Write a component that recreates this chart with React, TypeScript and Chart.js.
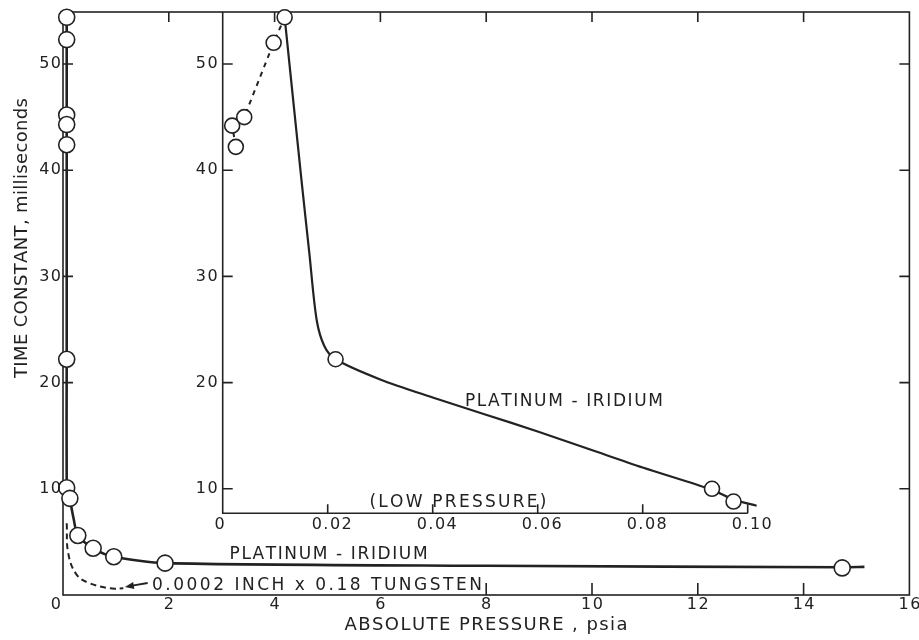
import React, { useEffect, useRef } from "react";
import { Chart, registerables } from "chart.js";

Chart.register(...registerables);

// ---------------- data ----------------
// main plot ticks
const mainXTicks = [0, 2, 4, 6, 8, 10, 12, 14, 16];
const mainYTicks = [10, 20, 30, 40, 50];
const mainTopTickMarks = [2, 4, 6, 8, 10, 12, 14];
const mainBottomTickMarks = [8, 10, 12, 14];

// inset ticks
const insetXTicks = [0, 0.02, 0.04, 0.06, 0.08, 0.1];
const insetXTickLabels = ["0", "0.02", "0.04", "0.06", "0.08", "0.10"];
const insetYTicks = [10, 20, 30, 40, 50];

// main plot: platinum-iridium curve (psia, ms)
const mainPtIrLineX = [0.07, 0.07, 0.07, 0.1, 0.13, 0.2, 0.28, 0.57, 0.96, 1.93, 8.0, 14.73, 15.15];
const mainPtIrLineY = [54.9, 22.0, 10.6, 9.6, 9.0, 7.2, 5.6, 4.4, 3.6, 3.0, 2.75, 2.62, 2.65];
// main plot: measured points
const mainPtIrPointX = [0.07, 0.07, 0.07, 0.07, 0.07, 0.07, 0.07, 0.13, 0.28, 0.57, 0.96, 1.93, 14.73];
const mainPtIrPointY = [54.4, 52.3, 45.2, 44.3, 42.4, 22.2, 10.1, 9.1, 5.6, 4.4, 3.6, 3.0, 2.55];
// main plot: tungsten wire (dashed)
const mainTungstenX = [0.07, 0.1, 0.26, 0.51, 0.89, 1.14];
const mainTungstenY = [6.75, 3.9, 1.9, 1.1, 0.63, 0.63];

// inset (low pressure): platinum-iridium solid curve
const insetPtIrLineX = [0.0118, 0.015, 0.0165, 0.0179, 0.0194, 0.0215, 0.03, 0.04, 0.05, 0.06, 0.07, 0.08, 0.0932, 0.0973, 0.1017];
const insetPtIrLineY = [54.4, 39.1, 32.2, 25.9, 23.4, 22.2, 20.3, 18.6, 17.0, 15.4, 13.7, 12.0, 9.9, 9.0, 8.4];
// inset dashed curve
const insetDashX = [0.0025, 0.0018, 0.0041, 0.0097, 0.0118];
const insetDashY = [42.2, 44.2, 45.0, 52.0, 54.4];
// inset points
const insetPointX = [0.0018, 0.0025, 0.0041, 0.0097, 0.0118, 0.0215, 0.0932, 0.0973];
const insetPointY = [44.2, 42.2, 45.0, 52.0, 54.4, 22.2, 10.0, 8.8];

// text annotations (data coordinates)
const mainPtIrLabel = { text: "PLATINUM - IRIDIUM", x: 5.02, y: 3.77 };
const tungstenLabel = { text: "0.0002 INCH x 0.18 TUNGSTEN", x: 4.8, y: 0.85 };
const tungstenArrow = { fromX: 1.6, fromY: 1.13, toX: 1.17, toY: 0.75 };
const insetPtIrLabel = { text: "PLATINUM - IRIDIUM", x: 0.065, y: 18.2 };
const lowPressureLabel = { text: "(LOW PRESSURE)", x: 0.0448, y: 8.66 };
const xTitle = "ABSOLUTE PRESSURE , psia";
const yTitle = "TIME CONSTANT, milliseconds";

// ---------------- layout / style ----------------
const W = 919;
const H = 640;
const PAD = { left: 63, right: 8, top: 12, bottom: 45 };
const INSET_PX = { left: 223, right: 749 };
const INSET_X_MAX = 0.1;
const INSET_Y_MIN = 7.7;
const Y_MAX = 54.9;
const INK = "#222222";
const FONT = "'DejaVu Sans', 'Liberation Sans', sans-serif";

const toPts = (xs: number[], ys: number[]) => xs.map((x, i) => ({ x, y: ys[i] }));

function drawSpaced(ctx: CanvasRenderingContext2D, text: string, x: number, y: number, spacing: number, align: "left" | "center" | "right") {
  const chars = [...text];
  const widths = chars.map((c) => ctx.measureText(c).width);
  const total = widths.reduce((a, b) => a + b, 0) + spacing * (chars.length - 1);
  let cur = align === "left" ? x : align === "center" ? x - total / 2 : x - total;
  ctx.textAlign = "left";
  chars.forEach((c, i) => {
    ctx.fillText(c, cur, y);
    cur += widths[i] + spacing;
  });
}

function drawFitted(ctx: CanvasRenderingContext2D, text: string, cx: number, cy: number, width: number) {
  const chars = [...text];
  const natural = chars.reduce((s, c) => s + ctx.measureText(c).width, 0);
  const spacing = chars.length > 1 ? (width - natural) / (chars.length - 1) : 0;
  drawSpaced(ctx, text, cx, cy, spacing, "center");
}

const decorPlugin = {
  id: "decor",
  beforeDatasetsDraw(chart: any) {
    const { ctx, chartArea: a, scales } = chart;
    const x = scales.x;
    const xi = scales.xi;
    const y = scales.y;
    ctx.save();
    ctx.strokeStyle = INK;
    ctx.lineWidth = 1.6;
    ctx.strokeRect(a.left, a.top, a.right - a.left, a.bottom - a.top);
    ctx.beginPath();
    mainYTicks.forEach((v) => {
      const py = y.getPixelForValue(v);
      ctx.moveTo(a.left, py);
      ctx.lineTo(a.left + 10, py);
      ctx.moveTo(a.right, py);
      ctx.lineTo(a.right - 10, py);
    });
    mainTopTickMarks.forEach((v) => {
      const px = x.getPixelForValue(v);
      ctx.moveTo(px, a.top);
      ctx.lineTo(px, a.top + 10);
    });
    mainBottomTickMarks.forEach((v) => {
      const px = x.getPixelForValue(v);
      ctx.moveTo(px, a.bottom);
      ctx.lineTo(px, a.bottom - 12);
    });
    // inset axes
    const ix0 = xi.getPixelForValue(0);
    const ix1 = xi.getPixelForValue(INSET_X_MAX);
    const iyB = y.getPixelForValue(INSET_Y_MIN);
    ctx.moveTo(ix0, a.top);
    ctx.lineTo(ix0, iyB);
    ctx.lineTo(ix1, iyB);
    insetYTicks.forEach((v) => {
      const py = y.getPixelForValue(v);
      ctx.moveTo(ix0, py);
      ctx.lineTo(ix0 + 10, py);
    });
    insetXTicks.forEach((v) => {
      if (v === 0) return;
      const px = xi.getPixelForValue(v);
      ctx.moveTo(px, iyB);
      ctx.lineTo(px, iyB - 9);
    });
    ctx.stroke();
    ctx.restore();
  },
  afterDatasetsDraw(chart: any) {
    const { ctx, chartArea: a, scales } = chart;
    const x = scales.x;
    const xi = scales.xi;
    const y = scales.y;
    ctx.save();
    ctx.fillStyle = INK;
    ctx.strokeStyle = INK;
    ctx.textBaseline = "middle";

    // tick labels
    ctx.font = `16px ${FONT}`;
    mainYTicks.forEach((v) => drawSpaced(ctx, String(v), a.left - 2, y.getPixelForValue(v), 1.5, "right"));
    mainXTicks.forEach((v) => {
      const px = x.getPixelForValue(v);
      if (v === 0) drawSpaced(ctx, "0", px - 2, a.bottom + 10, 1.5, "right");
      else drawSpaced(ctx, String(v), px, a.bottom + 10, 1.5, "center");
    });
    const ix0 = xi.getPixelForValue(0);
    const iyB = y.getPixelForValue(INSET_Y_MIN);
    insetYTicks.forEach((v) => drawSpaced(ctx, String(v), ix0 - 5, y.getPixelForValue(v), 1.5, "right"));
    insetXTicks.forEach((v, i) => {
      const px = xi.getPixelForValue(v);
      if (v === 0) drawSpaced(ctx, insetXTickLabels[i], px + 2, iyB + 12, 1.5, "right");
      else drawSpaced(ctx, insetXTickLabels[i], px + 4, iyB + 12, 1.5, "center");
    });

    // curve labels
    ctx.font = `17px ${FONT}`;
    drawFitted(ctx, mainPtIrLabel.text, x.getPixelForValue(mainPtIrLabel.x), y.getPixelForValue(mainPtIrLabel.y), 198);
    drawFitted(ctx, tungstenLabel.text, x.getPixelForValue(tungstenLabel.x), y.getPixelForValue(tungstenLabel.y), 330);
    drawFitted(ctx, insetPtIrLabel.text, xi.getPixelForValue(insetPtIrLabel.x), y.getPixelForValue(insetPtIrLabel.y), 198);
    drawFitted(ctx, lowPressureLabel.text, xi.getPixelForValue(lowPressureLabel.x), y.getPixelForValue(lowPressureLabel.y), 177);

    // arrow
    const fx = x.getPixelForValue(tungstenArrow.fromX);
    const fy = y.getPixelForValue(tungstenArrow.fromY);
    const tx = x.getPixelForValue(tungstenArrow.toX);
    const ty = y.getPixelForValue(tungstenArrow.toY);
    const ang = Math.atan2(ty - fy, tx - fx);
    ctx.lineWidth = 1.8;
    ctx.beginPath();
    ctx.moveTo(fx, fy);
    ctx.lineTo(tx - 6 * Math.cos(ang), ty - 6 * Math.sin(ang));
    ctx.stroke();
    ctx.beginPath();
    ctx.moveTo(tx, ty);
    ctx.lineTo(tx - 9 * Math.cos(ang) + 3.5 * Math.sin(ang), ty - 9 * Math.sin(ang) - 3.5 * Math.cos(ang));
    ctx.lineTo(tx - 9 * Math.cos(ang) - 3.5 * Math.sin(ang), ty - 9 * Math.sin(ang) + 3.5 * Math.cos(ang));
    ctx.closePath();
    ctx.fill();

    // axis titles
    ctx.font = `18px ${FONT}`;
    drawFitted(ctx, xTitle, 486, 625, 283);
    ctx.translate(22, 238);
    ctx.rotate(-Math.PI / 2);
    drawFitted(ctx, yTitle, 0, 0, 280);
    ctx.restore();
  },
};

export default function App() {
  const canvasRef = useRef<HTMLCanvasElement | null>(null);

  useEffect(() => {
    if (!canvasRef.current) return;
    const plotW = W - PAD.left - PAD.right;
    const insetW = INSET_PX.right - INSET_PX.left;
    const xiMin = (-INSET_X_MAX * (INSET_PX.left - PAD.left)) / insetW;
    const xiMax = (INSET_X_MAX * (PAD.left + plotW - INSET_PX.left)) / insetW;

    const pointStyle = {
      showLine: false,
      pointRadius: 8,
      pointBackgroundColor: "#ffffff",
      pointBorderColor: INK,
      pointBorderWidth: 1.6,
      clip: false as const,
    };

    const chart = new Chart(canvasRef.current, {
      type: "scatter",
      data: {
        datasets: [
          { label: "main points", data: toPts(mainPtIrPointX, mainPtIrPointY), xAxisID: "x", yAxisID: "y", ...pointStyle },
          { label: "inset points", data: toPts(insetPointX, insetPointY), xAxisID: "xi", yAxisID: "y", ...pointStyle, pointRadius: 7.5 },
          {
            label: "Platinum-iridium",
            data: toPts(mainPtIrLineX, mainPtIrLineY),
            xAxisID: "x",
            yAxisID: "y",
            showLine: true,
            borderColor: INK,
            borderWidth: 2.6,
            pointRadius: 0,
            tension: 0.25,
            clip: false,
          },
          {
            label: "Tungsten",
            data: toPts(mainTungstenX, mainTungstenY),
            xAxisID: "x",
            yAxisID: "y",
            showLine: true,
            borderColor: INK,
            borderWidth: 2,
            borderDash: [6, 4],
            pointRadius: 0,
            tension: 0.4,
            clip: false,
          },
          {
            label: "Platinum-iridium (low pressure)",
            data: toPts(insetPtIrLineX, insetPtIrLineY),
            xAxisID: "xi",
            yAxisID: "y",
            showLine: true,
            borderColor: INK,
            borderWidth: 2.2,
            pointRadius: 0,
            tension: 0.3,
            clip: false,
          },
          {
            label: "low pressure dashed",
            data: toPts(insetDashX, insetDashY),
            xAxisID: "xi",
            yAxisID: "y",
            showLine: true,
            borderColor: INK,
            borderWidth: 2,
            borderDash: [5, 5],
            pointRadius: 0,
            tension: 0,
            clip: false,
          },
        ],
      },
      options: {
        responsive: false,
        animation: false,
        events: [],
        layout: { padding: PAD },
        plugins: { legend: { display: false }, tooltip: { enabled: false } },
        scales: {
          x: { type: "linear", min: 0, max: 16, display: false },
          xi: { type: "linear", min: xiMin, max: xiMax, display: false },
          y: { type: "linear", min: 0, max: Y_MAX, display: false },
        },
      },
      plugins: [decorPlugin],
    });
    return () => chart.destroy();
  }, []);

  return (
    <div style={{ position: "absolute", left: 0, top: 0, width: W, height: H, background: "#ffffff" }}>
      <canvas ref={canvasRef} width={W} height={H} style={{ display: "block" }} />
    </div>
  );
}
